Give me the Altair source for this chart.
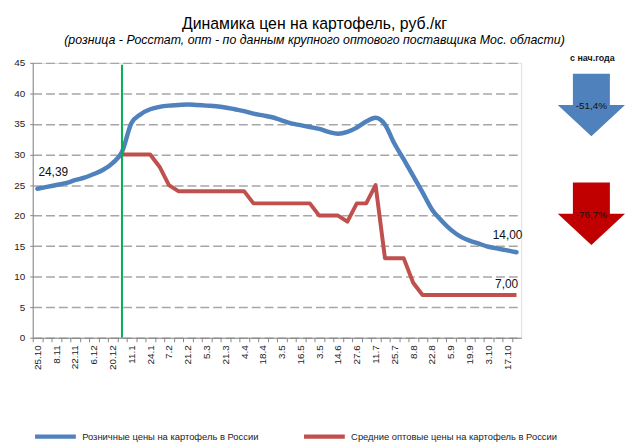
import json
import altair as alt
import pandas as pd

# ---------------- data ----------------
tick_labels = ["25.10", "8.11", "22.11", "6.12", "20.12", "11.1", "24.1", "7.2",
               "21.2", "5.3", "21.3", "4.4", "18.4", "3.5", "16.5", "3.5", "14.6",
               "27.6", "11.7", "25.7", "8.8", "22.8", "5.9", "19.9", "3.10", "17.10"]

retail = [24.39, 24.7, 25.0, 25.3, 25.8, 26.2, 26.8, 27.5, 28.6, 30.4,
          35.1, 36.6, 37.4, 37.8, 38.0, 38.1, 38.2, 38.1, 38.0, 37.9,
          37.7, 37.4, 37.1, 36.7, 36.4, 36.1, 35.6, 35.1, 34.8, 34.5,
          34.2, 33.7, 33.4, 33.7, 34.4, 35.4, 36.0, 34.9, 31.8, 29.2,
          26.5, 23.8, 21.0, 19.2, 17.7, 16.6, 15.9, 15.4, 14.9, 14.6,
          14.3, 14.0]

wholesale = [None] * 9 + [30, 30, 30, 30, 28, 25, 24, 24, 24, 24, 24, 24, 24, 24,
                          22, 22, 22, 22, 22, 22, 22, 20, 20, 20, 19, 22, 22, 25,
                          13, 13, 13, 9, 7, 7, 7, 7, 7, 7, 7, 7, 7, 7, 7]

series_names = ["Розничные цены на картофель в России",
                "Средние оптовые цены на картофель в России"]
series_colors = ["#4F81BD", "#C0504D"]

pct_change = [-51.4, -76.7]
arrow_colors = ["#4F81BD", "#C00000"]

year_start_idx = 9
marker_top = 44.7

# ---------------- layout / style ----------------
W, H = 494, 278
n = len(retail)
band = W / n
FONT = "Liberation Sans, Arial, sans-serif"

rows = []
for i, v in enumerate(retail):
    rows.append({"idx": i, "value": v, "series": series_names[0]})
for i, v in enumerate(wholesale):
    if v is not None:
        rows.append({"idx": i, "value": v, "series": series_names[1]})
df = pd.DataFrame(rows)

label_expr = (f"(datum.value % 2 == 0 && datum.value / 2 < {len(tick_labels)}) ? "
              f"{json.dumps(tick_labels)}[datum.value / 2] : ''")

x_enc = alt.X(
    "idx:Q",
    scale=alt.Scale(domain=[-0.5, n - 0.5], nice=False, zero=False),
    axis=alt.Axis(values=list(range(n + 1)), labelExpr=label_expr, labelAngle=-90,
                  labelOverlap=False, tickOffset=-band / 2, labelOffset=band / 2,
                  grid=False, domainColor="#868686", tickColor="#868686", tickSize=4,
                  labelFontSize=10, labelFont=FONT, labelColor="#222", labelPadding=3),
    title=None,
)
y_enc = alt.Y(
    "value:Q",
    scale=alt.Scale(domain=[0, 45], nice=False),
    axis=alt.Axis(values=list(range(0, 46, 5)), grid=True, gridDash=[9, 4],
                  gridColor="#A6A6A6", gridWidth=1.5, domainColor="#868686",
                  tickColor="#868686", tickSize=3, labelPadding=5, labelFontSize=10,
                  labelFont=FONT, labelColor="#222"),
    title=None,
)
color_enc = alt.Color(
    "series:N",
    scale=alt.Scale(domain=series_names, range=series_colors),
    legend=alt.Legend(orient="none", legendX=0, legendY=355, direction="horizontal",
                      title=None, symbolType="stroke", symbolSize=1700,
                      symbolStrokeWidth=4.5, labelFontSize=9.5, labelFont=FONT,
                      labelColor="#222", columnPadding=36, labelLimit=400, padding=0),
)

base = alt.Chart(df)
blue = base.transform_filter(alt.datum.series == series_names[0]).mark_line(
    interpolate="monotone", strokeWidth=4.5, strokeCap="round", strokeJoin="round"
).encode(x=x_enc, y=y_enc, color=color_enc)
red = base.transform_filter(alt.datum.series == series_names[1]).mark_line(
    strokeWidth=4, strokeJoin="round"
).encode(x=x_enc, y=y_enc, color=color_enc)

marker = alt.Chart(pd.DataFrame({"idx": [year_start_idx], "value": [marker_top], "bottom": [0]})).mark_rule(
    color="#00B050", strokeWidth=2
).encode(x=x_enc, y=y_enc, y2="bottom:Q")


def fmt(v):
    return f"{v:.2f}".replace(".", ",")


lab_first = pd.DataFrame({"idx": [0], "value": [retail[0]], "t": [fmt(retail[0])]})
lab_r_end = pd.DataFrame({"idx": [n - 1], "value": [retail[-1]], "t": [fmt(retail[-1])]})
lab_w_end = pd.DataFrame({"idx": [n - 1], "value": [wholesale[-1]], "t": [fmt(wholesale[-1])]})


def data_label(d, dx, dy):
    return alt.Chart(d).mark_text(font=FONT, fontSize=12, color="#111", dx=dx, dy=dy).encode(
        x=x_enc, y=y_enc, text="t:N")


labels = [data_label(lab_first, 16, -17), data_label(lab_r_end, -9, -17), data_label(lab_w_end, -10, -11)]

arrow_path = "M -0.55 -0.93 L 0.55 -0.93 L 0.55 0 L 1 0 L 0 0.93 L -1 0 L -0.55 0 Z"
arrow_x = 565
arrow_y = [42.5, 152.5]
side = []
for k in range(2):
    d = pd.DataFrame({"t": [f"{pct_change[k]:.1f}%".replace(".", ",")]})
    side.append(alt.Chart(d).mark_point(shape=arrow_path, size=4624, filled=True,
                                        color=arrow_colors[k], opacity=1).encode(
        x=alt.value(arrow_x), y=alt.value(arrow_y[k])))
    side.append(alt.Chart(d).mark_text(font=FONT, fontSize=10, color="#111").encode(
        x=alt.value(arrow_x), y=alt.value(arrow_y[k] + 1.5), text="t:N"))
side.append(alt.Chart(pd.DataFrame({"t": ["с нач.года"]})).mark_text(
    font=FONT, fontSize=9, fontWeight="bold", color="#111").encode(
    x=alt.value(arrow_x + 1), y=alt.value(-5), text="t:N"))

chart = alt.layer(blue, red, marker, *labels, *side).properties(
    width=W, height=H,
    title=alt.TitleParams(
        text="Динамика цен на картофель, руб./кг",
        subtitle="(розница - Росстат, опт - по данным крупного оптового поставщика Мос. области)",
        font=FONT, fontSize=16, fontWeight="normal", color="#000",
        subtitleFont=FONT, subtitleFontSize=12.5, subtitleFontStyle="italic",
        subtitleColor="#000", anchor="middle", dx=38, offset=8, subtitlePadding=2,
    ),
    padding={"left": 5, "top": 5, "right": 0, "bottom": 0},
).configure_view(stroke=None).configure(background="white")

chart.save("out.html", embed_options={"renderer": "svg", "actions": False})
